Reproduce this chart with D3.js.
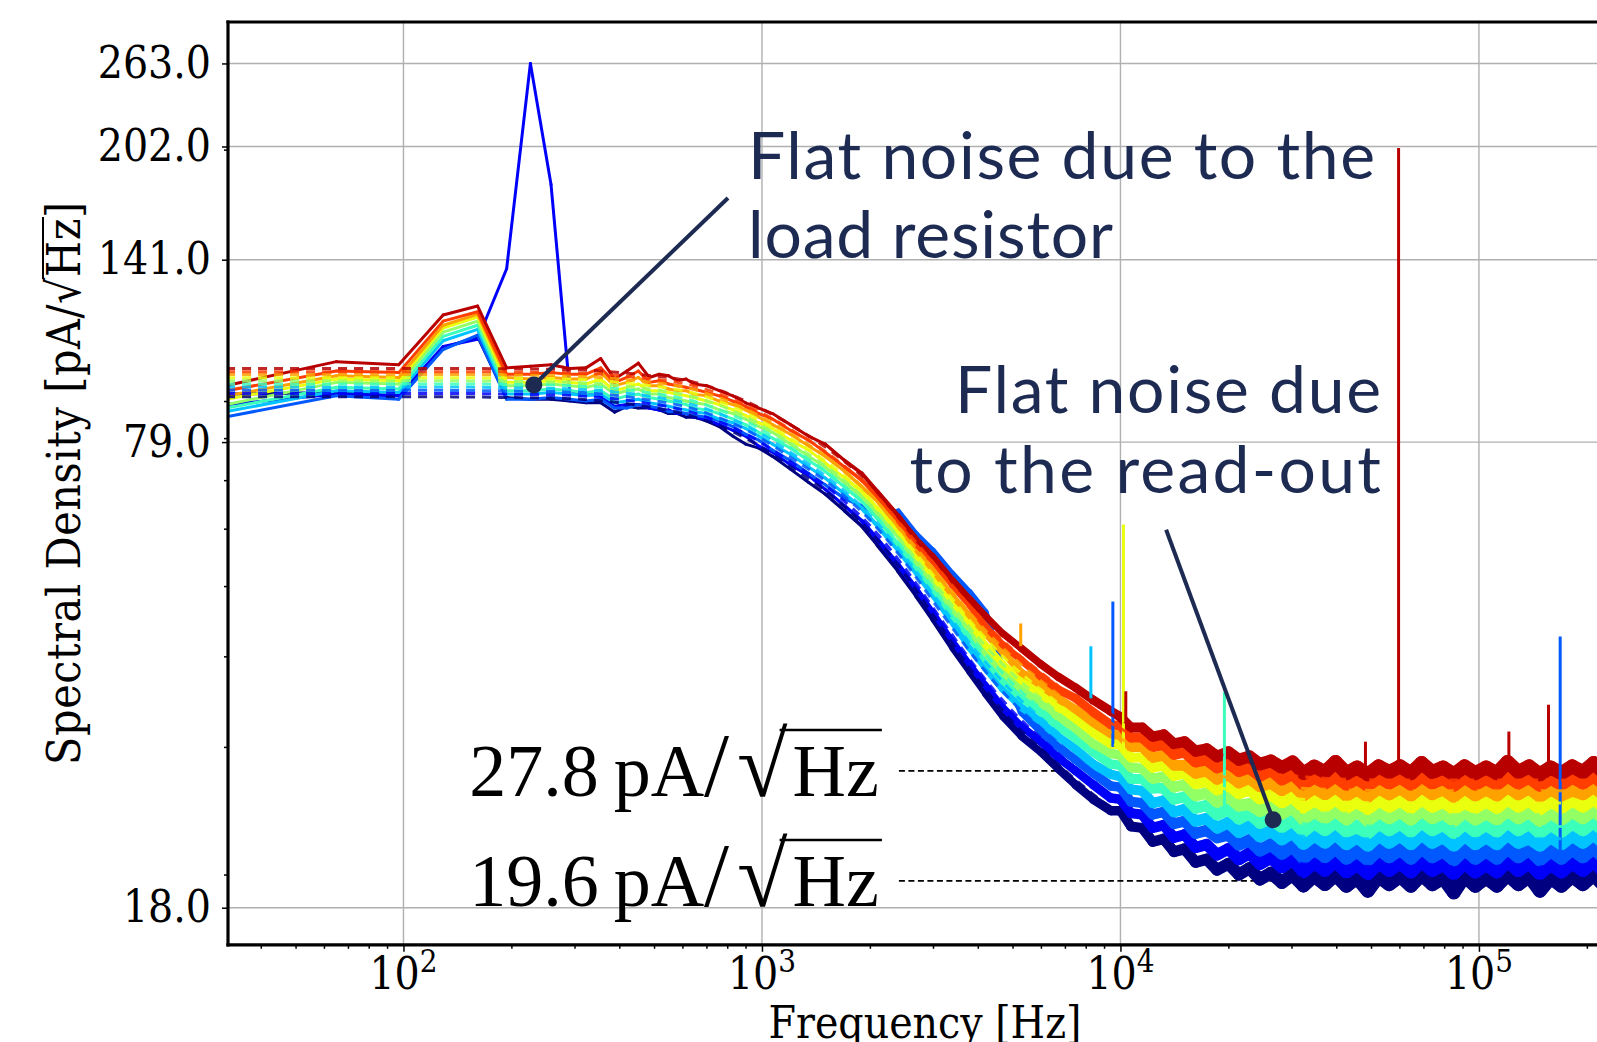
<!DOCTYPE html>
<html>
<head>
<meta charset="utf-8">
<script src="https://cdn.jsdelivr.net/npm/d3@7"></script>
<style>
  body { margin: 0; background: #fff; }
  svg { display: block; }
</style>
</head>
<body>
<svg width="1597" height="1042"></svg>
<script>
// measured spectra, one row per frequency bin, columns = 10 runs (blue -> red)
var freqs = [32, 65, 97, 129, 161, 194, 226, 258, 291, 323, 355, 388, 420, 452, 485, 517, 549, 581, 614, 646,
    700, 760, 830, 900, 980,
    1070, 1200, 1350, 1500, 1700, 1900, 2100, 2400, 2700, 3000, 3400, 3800, 4200, 4700, 5300, 6000, 6700, 7500, 8400, 9400,
    10000, 10700, 11500, 12300, 13200, 14100, 15100, 16200, 17400, 18600, 20000, 21400, 22900, 24500, 26300, 28200, 30200,
    32400, 34700, 37200, 39800, 42700, 45700, 49000, 52500, 56200, 60300, 64600, 69200, 74100, 79400, 85100, 91200, 97700,
    104700, 112200, 120200, 128800, 138000, 147900, 158500, 169800, 182000, 195000, 208900, 223900, 239900, 257000];

var psd = [
    [92, 89, 85.6, 87, 88, 89, 90.5, 91.5, 93, 94.5],              // 32
    [92.5, 92, 91.5, 93, 94, 95.5, 96.5, 97.5, 99, 102],           // 65
    [91.5, 91.5, 90.5, 92.5, 93.5, 95, 96, 97, 98.5, 101],         // 97
    [106.5, 107, 106, 109, 110.5, 112, 113.5, 114.5, 116, 118.3],  // 129
    [110.4, 109.5, 111, 113, 114.5, 116, 117.5, 118.5, 119.5, 121.7], // 161
    [91, 137, 90.5, 92, 93, 94.5, 95.5, 97, 98, 100],              // 194
    [90.5, 263, 90.5, 92, 93, 94.5, 95.5, 96.5, 98, 100.5],        // 226
    [90.5, 179, 91, 92.5, 93.5, 95, 96, 97, 98.5, 101],            // 258
    [90, 93, 90.5, 92, 93, 94.5, 95.5, 96.5, 98, 99.8],            // 291
    [89.5, 92, 90, 91.5, 92.5, 94, 95, 96.5, 98, 100],             // 323
    [89.5, 91.5, 90.5, 92, 93, 95, 96.5, 98.5, 100, 103],          // 355
    [86.9, 88.5, 88, 89.5, 90.5, 92, 93, 94.5, 95.5, 96.5],        // 388
    [88.5, 89, 88, 90, 91.5, 93, 94, 95.5, 97, 99],                // 420
    [88, 89, 89, 90.5, 92, 93.5, 95, 97, 99, 101.5],               // 452
    [88, 88, 88.5, 89.5, 91, 92, 93, 94.5, 95.5, 97],              // 485
    [87.5, 87.5, 88, 89, 90.5, 92, 93, 94.5, 96, 98],              // 517
    [86.5, 87.5, 87, 88.5, 90, 91, 92.5, 93.5, 95, 97.5],          // 549
    [86.5, 86.5, 87, 88, 89.5, 90.5, 92, 93, 94.5, 96],            // 581
    [85.5, 86.5, 86.5, 87.5, 89, 90, 91.5, 93, 94, 96.5],          // 614
    [85.5, 85.5, 86, 87, 88, 89.5, 91, 92, 93.5, 95],              // 646
    [84.5, 85, 85.5, 86.5, 87.5, 89, 90, 91.5, 92.5, 94.5],        // 700
    [83, 83.5, 84.5, 85, 86.5, 87.5, 89, 90, 91.5, 93],            // 760
    [80.5, 82, 83, 84, 85, 86.5, 87.5, 89, 90, 91.5],              // 830
    [78.5, 80.5, 81, 82.5, 83.5, 85, 86, 87.5, 88.5, 89.5],        // 900
    [77.5, 78, 79.5, 80.5, 81.5, 83, 84, 85.5, 86.5, 88],          // 980
    [75.5, 76.5, 77, 78.5, 80, 81.5, 82.5, 83.5, 85, 86.5],        // 1070
    [72.5, 73.5, 74.5, 76, 77.5, 78.5, 79.5, 81, 82, 83.5],        // 1200
    [69.5, 71, 71.5, 73, 74.5, 75.5, 77, 78, 79.5, 80.5],          // 1350
    [67, 68, 69, 70.5, 72, 73, 74, 75.5, 76.5, 78.5],              // 1500
    [63.5, 64.5, 66, 67, 68.5, 69.5, 70.5, 72, 73, 74.5],          // 1700
    [60.5, 61.5, 64.5, 64, 65.5, 66.5, 67.5, 68.5, 70, 71.5],      // 1900
    [57, 58, 63, 60.5, 62, 63, 64, 65.5, 66.5, 67.5],              // 2100
    [52.5, 53.5, 63.5, 56, 57, 58.5, 59.5, 60.5, 61.5, 62.5],      // 2400
    [48.5, 49.5, 59, 52, 53, 54, 55, 56, 57, 58],                  // 2700
    [45, 46, 56, 48.5, 49.5, 50.5, 51.5, 52.5, 54, 55],            // 3000
    [41, 42, 52, 44.5, 45.5, 46.5, 47.5, 48.5, 50, 51],            // 3400
    [38, 39, 49, 41, 42.5, 43.5, 44.5, 45.5, 47, 48],              // 3800
    [35.5, 36.5, 46, 38.5, 39.5, 40.5, 41.5, 43, 44, 45.5],        // 4200
    [33, 34, 38, 36, 37, 38, 39, 40.5, 41.5, 43],                  // 4700
    [31, 32, 33.5, 34, 35, 36, 37, 38, 39.5, 41],                  // 5300
    [29.5, 30.5, 31.5, 32.5, 33.5, 34.5, 35.5, 36.5, 37.5, 39],    // 6000
    [28, 29, 30, 31, 32, 33, 34, 35, 36, 37.5],                    // 6700
    [26.6, 27.8, 28.8, 29.8, 30.8, 31.8, 32.8, 33.8, 35, 36.2],    // 7500
    [25.4, 26.6, 27.6, 28.4, 29.5, 30.3, 31.4, 32.4, 33.5, 34.8],  // 8400
    [24.5, 25.5, 26.5, 27.5, 28.4, 29.4, 30.3, 31.3, 32.2, 33.6],  // 9400
    [24.5, 25.4, 26.4, 27.3, 28.3, 29.2, 30.2, 31.1, 32.1, 33.0],  // 10000
    [23.3, 24.3, 25.2, 26.2, 27.1, 28.1, 29.0, 30.0, 30.9, 31.9],  // 10700
    [23.2, 24.2, 25.1, 26.1, 27.1, 28.0, 29.0, 30.0, 30.9, 31.9],  // 11500
    [22.2, 23.2, 24.2, 25.1, 26.3, 27.1, 28.1, 29.0, 30.0, 31.0],  // 12300
    [22.4, 23.4, 24.4, 25.3, 26.3, 27.3, 28.3, 29.2, 30.2, 31.2],  // 13200
    [21.5, 22.5, 23.5, 24.4, 25.4, 26.4, 27.4, 28.3, 29.3, 30.3],  // 14100
    [21.7, 22.7, 23.7, 24.6, 25.6, 26.6, 27.6, 28.3, 29.5, 30.5],  // 15100
    [20.8, 21.8, 22.8, 23.7, 24.7, 25.7, 26.7, 27.6, 28.6, 29.6],  // 16200
    [21.0, 22.0, 23.0, 23.9, 24.9, 25.9, 26.9, 27.8, 28.8, 29.8],  // 17400
    [20.3, 21.3, 22.5, 23.2, 24.2, 25.2, 26.2, 27.1, 28.1, 29.1],  // 18600
    [20.7, 21.7, 22.7, 23.6, 24.6, 25.6, 26.6, 27.5, 28.5, 29.5],  // 20000
    [20.0, 21.0, 22.0, 22.9, 23.9, 24.9, 25.9, 26.8, 27.8, 28.8],  // 21400
    [20.4, 21.4, 22.3, 23.3, 24.3, 25.0, 26.2, 27.2, 28.1, 29.1],  // 22900
    [19.7, 20.7, 21.6, 22.6, 23.6, 24.5, 25.5, 26.5, 27.4, 28.4],  // 24500
    [20.1, 21.1, 22.0, 23.0, 23.9, 24.9, 25.8, 26.8, 27.9, 28.7],  // 26300
    [19.5, 20.5, 21.4, 22.4, 23.3, 24.3, 25.2, 26.2, 27.1, 28.1],  // 28200
    [20.0, 21.0, 21.9, 22.9, 23.8, 24.8, 25.7, 26.7, 27.6, 28.6],  // 30200
    [19.3, 20.2, 21.1, 22.1, 23.0, 23.9, 24.8, 25.8, 26.7, 27.6],  // 32400
    [19.9, 20.8, 21.7, 22.7, 23.6, 24.5, 25.4, 26.4, 27.3, 28.2],  // 34700
    [19.4, 20.3, 21.2, 22.2, 23.1, 24.0, 24.9, 25.9, 26.8, 27.7],  // 37200
    [20.0, 20.9, 21.8, 22.8, 23.7, 24.6, 25.5, 26.5, 27.4, 28.6],  // 39800
    [19.3, 20.2, 21.1, 22.1, 23.0, 23.9, 24.8, 25.8, 26.7, 27.6],  // 42700
    [19.8, 20.7, 21.6, 22.6, 23.3, 24.6, 25.3, 26.3, 27.2, 28.1],  // 45700
    [19.0, 20.1, 21.0, 22.0, 22.9, 23.8, 24.7, 25.7, 26.6, 27.5],  // 49000
    [19.9, 20.8, 21.7, 22.7, 23.6, 24.5, 25.4, 26.4, 27.3, 28.2],  // 52500
    [19.4, 20.3, 21.2, 22.2, 23.1, 24.0, 24.9, 25.9, 26.8, 27.7],  // 56200
    [19.9, 20.8, 21.7, 22.7, 23.6, 24.5, 25.4, 26.4, 27.3, 28.2],  // 60300
    [19.3, 20.2, 21.1, 22.1, 23.0, 23.9, 24.8, 25.8, 26.7, 27.6],  // 64600
    [20.0, 20.9, 21.8, 22.8, 23.7, 24.6, 25.5, 26.5, 27.4, 28.5],  // 69200
    [19.4, 20.3, 21.2, 22.2, 23.1, 24.0, 24.9, 25.9, 26.8, 27.7],  // 74100
    [19.8, 20.7, 21.6, 22.6, 23.5, 24.4, 25.3, 26.3, 27.2, 28.1],  // 79400
    [18.9, 20.1, 21.0, 22.0, 22.9, 23.8, 24.7, 25.7, 26.6, 27.5],  // 85100
    [19.9, 20.8, 21.7, 22.7, 23.6, 24.5, 25.2, 26.4, 27.3, 28.2],  // 91200
    [19.3, 20.2, 21.1, 22.1, 23.0, 23.9, 24.8, 25.8, 26.7, 27.6],  // 97700
    [19.8, 20.7, 21.6, 22.6, 23.5, 24.4, 25.3, 26.3, 27.2, 28.1],  // 104700
    [19.3, 20.2, 21.1, 22.1, 23.0, 23.9, 24.8, 25.8, 26.7, 27.6],  // 112200
    [20.0, 20.9, 21.8, 22.8, 23.7, 24.6, 25.5, 26.5, 27.4, 28.6],  // 120200
    [19.4, 20.3, 21.2, 22.2, 23.1, 24.0, 24.9, 25.9, 26.8, 27.7],  // 128800
    [19.9, 20.8, 21.7, 22.5, 23.6, 24.5, 25.4, 26.4, 27.3, 28.2],  // 138000
    [19.0, 20.1, 21.0, 22.0, 22.9, 23.8, 24.7, 25.7, 26.6, 27.5],  // 147900
    [19.8, 20.7, 21.6, 22.6, 23.5, 24.4, 25.3, 26.3, 27.2, 28.1],  // 158500
    [19.3, 20.2, 21.1, 22.1, 23.0, 23.9, 24.8, 25.8, 26.7, 27.6],  // 169800
    [19.9, 20.8, 21.7, 22.7, 23.6, 24.5, 25.4, 26.2, 27.3, 28.2],  // 182000
    [19.4, 20.3, 21.2, 22.2, 23.1, 24.0, 24.9, 25.9, 26.8, 27.7],  // 195000
    [20.0, 20.9, 21.8, 22.8, 23.7, 24.6, 25.5, 26.5, 27.4, 28.5],  // 208900
    [19.3, 20.2, 21.1, 22.1, 23.0, 23.9, 24.8, 25.8, 26.7, 27.6],  // 223900
    [19.8, 20.7, 21.6, 22.6, 23.5, 24.4, 25.3, 26.3, 27.2, 28.1],  // 239900
    [19.3, 20.2, 21.1, 22.1, 23.0, 23.9, 24.8, 25.8, 26.7, 27.6]   // 257000
];

// fitted noise models (dashed), same 10 runs
var fitFreqs = [32, 50, 80, 130, 200, 300, 450, 650, 900, 1200, 1600, 2000, 2500, 3200, 4000, 5000, 6300, 8000,
    10000, 12500, 16000, 20000, 25000, 32000, 40000, 60000, 100000, 160000, 257000];
var fitPsd = [
    [91.2, 92.2, 93.1, 94.1, 95.0, 96.0, 96.9, 97.9, 98.8, 99.8],
    [91.2, 92.2, 93.1, 94.1, 95.0, 96.0, 96.9, 97.9, 98.8, 99.8],
    [91.2, 92.2, 93.1, 94.1, 95.0, 96.0, 96.9, 97.9, 98.8, 99.8],
    [91.2, 92.2, 93.1, 94.1, 95.0, 96.0, 96.9, 97.9, 98.8, 99.8],
    [91.0, 92.0, 92.9, 93.9, 94.9, 95.8, 96.8, 97.8, 98.7, 99.7],
    [90.6, 91.6, 92.6, 93.5, 94.5, 95.5, 96.5, 97.4, 98.4, 99.4],
    [88.8, 89.8, 90.8, 91.9, 92.9, 93.9, 94.9, 96.0, 97.0, 98.0],
    [85.5, 86.6, 87.7, 88.8, 89.9, 91.1, 92.2, 93.3, 94.4, 95.5],
    [80.0, 81.1, 82.2, 83.3, 84.4, 85.6, 86.7, 87.8, 88.9, 90.0],
    [73.0, 74.2, 75.3, 76.5, 77.7, 78.8, 80.0, 81.2, 82.3, 83.5],
    [66.0, 67.1, 68.2, 69.3, 70.4, 71.6, 72.7, 73.8, 74.9, 76.0],
    [59.5, 60.6, 61.7, 62.7, 63.8, 64.9, 66.0, 67.0, 68.1, 69.2],
    [52.0, 53.0, 54.0, 55.0, 56.0, 57.0, 58.0, 59.0, 60.0, 61.0],
    [43.5, 44.6, 45.6, 46.7, 47.7, 48.8, 49.8, 50.9, 51.9, 53.0],
    [37.2, 38.3, 39.3, 40.4, 41.4, 42.5, 43.5, 44.6, 45.6, 46.7],
    [32.5, 33.6, 34.6, 35.7, 36.7, 37.8, 38.8, 39.9, 40.9, 42.0],
    [29.2, 30.2, 31.2, 32.2, 33.2, 34.3, 35.3, 36.3, 37.3, 38.3],
    [26.3, 27.3, 28.3, 29.2, 30.2, 31.2, 32.2, 33.1, 34.1, 35.1],
    [24.2, 25.1, 26.1, 27.0, 28.0, 28.9, 29.9, 30.8, 31.8, 32.7],
    [22.5, 23.5, 24.4, 25.4, 26.4, 27.3, 28.3, 29.3, 30.2, 31.2],
    [21.2, 22.2, 23.1, 24.1, 25.1, 26.0, 27.0, 28.0, 28.9, 29.9],
    [20.4, 21.4, 22.3, 23.3, 24.3, 25.2, 26.2, 27.2, 28.1, 29.1],
    [20.0, 21.0, 21.9, 22.9, 23.8, 24.8, 25.7, 26.7, 27.6, 28.6],
    [19.8, 20.7, 21.6, 22.6, 23.5, 24.4, 25.4, 26.3, 27.3, 28.2],
    [19.7, 20.6, 21.5, 22.4, 23.4, 24.3, 25.2, 26.2, 27.1, 28.0],
    [19.6, 20.5, 21.4, 22.4, 23.3, 24.2, 25.1, 26.1, 27.0, 27.9],
    [19.6, 20.5, 21.4, 22.4, 23.3, 24.2, 25.1, 26.1, 27.0, 27.9],
    [19.6, 20.5, 21.4, 22.4, 23.3, 24.2, 25.1, 26.1, 27.0, 27.9],
    [19.6, 20.5, 21.4, 22.4, 23.3, 24.2, 25.1, 26.1, 27.0, 27.9]
];

// narrow pick-up lines: frequency, run index, floor, peak
var spikeFreqs = [5270, 8270, 9524, 10195, 10350, 19500, 48240, 59680, 121200, 156300, 168500];
var spikeRun   = [7, 3, 2, 6, 9, 4, 9, 9, 9, 9, 2];
var spikeFloor = [41.3, 35, 30, 29.5, 32.6, 24.2, 28.3, 28.0, 28.3, 28.3, 21.4];
var spikePeak  = [44.4, 41.3, 47.6, 60.8, 35.8, 35.7, 30.5, 201, 31.5, 34.3, 42.6];

var yTicks = [18, 79, 141, 202, 263];
var yMinor = [20, 30, 40, 50, 60, 70, 80, 90, 200];
var xTicks = [100, 1000, 10000, 100000];
var xExp = ['2', '3', '4', '5'];
var xMinor = [40, 50, 60, 70, 80, 90, 200, 300, 400, 500, 600, 700, 800, 900,
    2000, 3000, 4000, 5000, 6000, 7000, 8000, 9000, 20000, 30000, 40000, 50000, 60000, 70000, 80000, 90000, 200000];

var refLevels = [27.8, 19.6];
var refLabels = ['27.8', '19.6'];
var refStart = 2410;
var refEnds = [6620, 29200];

// annotation: text lines, arrow from -> dot (freq, value)
var note1 = ['Flat noise due to the', 'load resistor'];
var note1Arrow = [[804, 171.5], [231, 94.7]];
var note2 = ['Flat noise due', 'to the read-out'];
var note2Arrow = [[13410, 59.8], [26660, 23.8]];

var svg = d3.select('svg');
var W = 1597;
var ink = '#1d2b53';
var serif = "'DejaVu Serif Condensed', 'DejaVu Serif', serif";

var x = d3.scaleLog().domain([32.4, 250000]).range([228, 1621.6]);
var y = d3.scaleLog().domain([16, 300]).range([944.8, 22]);
var x0 = 228, y0 = 22, y1 = 944.8;

// jet colormap
var jetR = d3.scaleLinear().domain([0, 0.35, 0.66, 0.89, 1]).range([0, 0, 1, 1, 0.5]).clamp(true);
var jetG = d3.scaleLinear().domain([0, 0.125, 0.375, 0.64, 0.91, 1]).range([0, 0, 1, 1, 0, 0]).clamp(true);
var jetB = d3.scaleLinear().domain([0, 0.11, 0.34, 0.65, 1]).range([0.5, 1, 1, 0, 0]).clamp(true);
function jet(t) { return d3.rgb(jetR(t) * 255, jetG(t) * 255, jetB(t) * 255).formatHex(); }
function color(i) { return jet(i * 0.95 / 9); }

// dense FFT bins look thicker at high frequency: stroke grows with f
var widthAt = d3.scaleLog().domain([1500, 15000, 40000]).range([3, 11, 14]).clamp(true);

svg.append('defs').append('clipPath').attr('id', 'plot')
    .append('rect').attr('x', x0).attr('y', y0).attr('width', W - x0).attr('height', y1 - y0);

// grid
var grid = svg.append('g').attr('stroke', '#b0b0b0').attr('stroke-width', 1.4);
grid.selectAll('.gx').data(xTicks).enter().append('line')
    .attr('x1', d => x(d)).attr('x2', d => x(d)).attr('y1', y0).attr('y2', y1);
grid.selectAll('.gy').data(yTicks).enter().append('line')
    .attr('x1', x0).attr('x2', W).attr('y1', d => y(d)).attr('y2', d => y(d));

var plot = svg.append('g').attr('clip-path', 'url(#plot)');

// dashed reference levels
plot.selectAll('.ref').data(refLevels).enter().append('line')
    .attr('x1', x(refStart)).attr('x2', (d, i) => x(refEnds[i]))
    .attr('y1', d => y(d)).attr('y2', d => y(d))
    .attr('stroke', '#000').attr('stroke-width', 1.8).attr('stroke-dasharray', '6,3.5');

var runs = d3.range(10);
var segs = d3.pairs(d3.range(freqs.length));
var fitLine = d3.line().x((d, j) => x(fitFreqs[j])).y(d => y(d)).curve(d3.curveMonotoneX);

// measured spectra, drawn segment by segment
runs.forEach(function (i) {
    var v = psd.map(r => r[i]);
    plot.append('g').attr('stroke', color(i)).attr('stroke-linecap', 'round')
        .selectAll('line').data(segs).enter().append('line')
        .attr('x1', s => x(freqs[s[0]])).attr('y1', s => y(v[s[0]]))
        .attr('x2', s => x(freqs[s[1]])).attr('y2', s => y(v[s[1]]))
        .attr('stroke-width', s => widthAt(Math.sqrt(freqs[s[0]] * freqs[s[1]])));
});

plot.selectAll('.spike').data(spikeFreqs).enter().append('line')
    .attr('x1', d => x(d)).attr('x2', d => x(d))
    .attr('y1', (d, k) => y(spikeFloor[k])).attr('y2', (d, k) => y(spikePeak[k]))
    .attr('stroke', (d, k) => color(spikeRun[k])).attr('stroke-width', 3);

// fits
plot.selectAll('.fit').data(runs).enter().append('path')
    .attr('d', i => fitLine(fitPsd.map(r => r[i])))
    .attr('fill', 'none').attr('stroke', i => color(i)).attr('stroke-opacity', 0.85)
    .attr('stroke-width', 3).attr('stroke-dasharray', '9,7');

// axes
var yAxis = svg.append('g').attr('transform', 'translate(' + x0 + ',0)')
    .call(d3.axisLeft(y).tickValues(yTicks).tickFormat(d3.format('.1f')).tickSize(6).tickPadding(11));
svg.append('g').attr('transform', 'translate(' + x0 + ',0)')
    .call(d3.axisLeft(y).tickValues(yMinor).tickFormat('').tickSize(4));
svg.append('g').attr('transform', 'translate(0,' + y1 + ')')
    .call(d3.axisBottom(x).tickValues(xTicks).tickFormat('').tickSize(7));
svg.append('g').attr('transform', 'translate(0,' + y1 + ')')
    .call(d3.axisBottom(x).tickValues(xMinor).tickFormat('').tickSize(4));
svg.selectAll('.domain').remove();
svg.selectAll('.tick line').attr('stroke', '#000').attr('stroke-width', 1.5);
yAxis.selectAll('text').attr('font-family', serif).attr('font-size', 44).attr('fill', '#000');

var xl = svg.append('g').selectAll('text').data(xTicks).enter().append('text')
    .attr('x', d => x(d)).attr('y', 989).attr('text-anchor', 'middle')
    .attr('font-family', serif).attr('font-size', 44);
xl.append('tspan').text('10');
xl.append('tspan').attr('dy', -17).attr('font-size', 31).text((d, i) => xExp[i]);

// spines
svg.append('g').attr('stroke', '#000').attr('stroke-width', 3.2).attr('stroke-linecap', 'square')
    .selectAll('line').data([[x0, y0, W, y0], [x0, y0, x0, y1], [x0, y1, W, y1]]).enter().append('line')
    .attr('x1', d => d[0]).attr('y1', d => d[1]).attr('x2', d => d[2]).attr('y2', d => d[3]);

// axis labels
var yl = svg.append('g').attr('transform', 'translate(80,483) rotate(-90)');
var ylt = yl.append('text').attr('text-anchor', 'middle').attr('font-family', serif).attr('font-size', 46)
    .attr('letter-spacing', 0.6)
    .text('Spectral Density [pA/\u221AHz]');
var yn = ylt.node();
var vx1 = yn.getEndPositionOfChar(21).x - 2, vx2 = yn.getEndPositionOfChar(23).x + 1;
yl.append('line').attr('x1', vx1).attr('x2', vx2).attr('y1', -37).attr('y2', -37)
    .attr('stroke', '#000').attr('stroke-width', 2);

svg.append('text').attr('x', 925).attr('y', 1038).attr('text-anchor', 'middle')
    .attr('font-family', serif).attr('font-size', 44).text('Frequency [Hz]');

// reference level labels
refLevels.forEach(function (v, i) {
    var t = svg.append('text').attr('x', x(refStart) - 20).attr('y', y(v) + 25)
        .attr('text-anchor', 'end').attr('font-family', "'Liberation Serif', serif").attr('font-size', 74);
    t.append('tspan').text(refLabels[i]);
    t.append('tspan').attr('dx', 15).text('pA');
    t.append('tspan').attr('font-size', 90).text('/');
    t.append('tspan').attr('dx', 8).attr('font-size', 92).text('\u221A');
    t.append('tspan').attr('dx', 5).text('Hz');
    var n = t.node(), len = n.getNumberOfChars();
    var a = n.getStartPositionOfChar(len - 2).x - 13, b = n.getEndPositionOfChar(len - 1).x + 3;
    svg.append('line').attr('x1', a).attr('x2', b).attr('y1', y(v) - 41).attr('y2', y(v) - 41)
        .attr('stroke', '#000').attr('stroke-width', 2.5);
});

// annotations
function arrow(p) {
    svg.append('line')
        .attr('x1', x(p[0][0])).attr('y1', y(p[0][1])).attr('x2', x(p[1][0])).attr('y2', y(p[1][1]))
        .attr('stroke', ink).attr('stroke-width', 4);
    svg.append('circle').attr('cx', x(p[1][0])).attr('cy', y(p[1][1])).attr('r', 8.5).attr('fill', ink);
}
arrow(note1Arrow);
arrow(note2Arrow);

var sans = "Lato, 'Open Sans', sans-serif";
svg.selectAll('.n1').data(note1).enter().append('text')
    .attr('x', 748).attr('y', (d, i) => 179 + i * 79.3)
    .attr('font-family', sans).attr('font-size', 66).attr('fill', ink)
    .attr('textLength', (d, i) => [627, 365][i]).attr('lengthAdjust', 'spacing')
    .text(d => d);
svg.selectAll('.n2').data(note2).enter().append('text')
    .attr('x', (d, i) => [955, 909.5][i]).attr('y', (d, i) => 413 + i * 80)
    .attr('font-family', sans).attr('font-size', 66).attr('fill', ink)
    .attr('textLength', (d, i) => [426, 471.5][i]).attr('lengthAdjust', 'spacing')
    .text(d => d);
</script>
</body>
</html>
